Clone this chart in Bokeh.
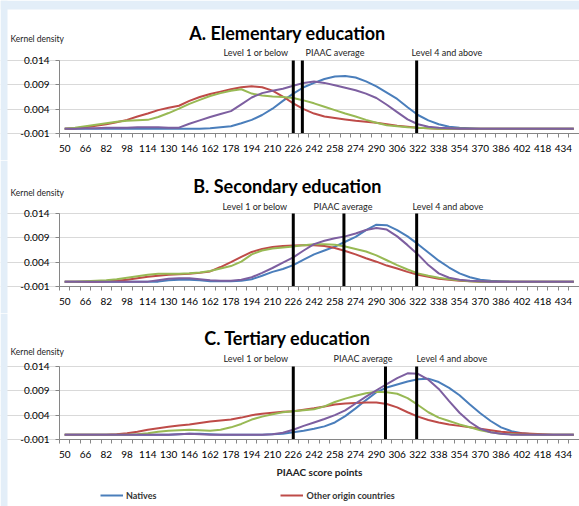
from bokeh.plotting import figure
from bokeh.models import FixedTicker, Label, Legend, LegendItem, Range1d, PrintfTickFormatter, BoxAnnotation
from bokeh.layouts import column
from bokeh.embed import file_html
from bokeh.resources import INLINE

# ---------------- data ----------------
scores = [50 + 8 * i for i in range(50)]          # score categories 50 ... 442
tick_labels = [50 + 16 * i for i in range(25)]    # labelled categories 50 ... 434
y_ticks = [-0.001, 0.004, 0.009, 0.014]
level_cuts = [226, 321]                            # Level 1 or below / Level 4 and above
piaac_avg = [233, 265, 297]                        # PIAAC average per panel
panel_titles = ["A. Elementary education", "B. Secondary education", "C. Tertiary education"]
level_texts = ["Level 1 or below", "PIAAC average", "Level 4 and above"]
series_names = ["Natives", "Other origin countries"]

natives_A = [0]*14 + [0.0001, 0.0003, 0.0005, 0.0011, 0.0018, 0.0028, 0.0041, 0.0057, 0.0072, 0.0085,
             0.0094, 0.0102, 0.0107, 0.0108, 0.0105, 0.0097, 0.0087, 0.0074, 0.0061, 0.0044,
             0.0028, 0.0017, 0.0009, 0.0004, 0.0002, 0.0001] + [0]*10
purple_A = [0, 0, 0.0001, 0.0001, 0.0002, 0.0002, 0.0002, 0.0003, 0.0003, 0.0003, 0.0002, 0.0002,
            0.0010, 0.0017, 0.0024, 0.0030, 0.0036, 0.0050, 0.0064, 0.0073, 0.0078, 0.0082, 0.0088,
            0.0094, 0.0097, 0.0094, 0.0089, 0.0084, 0.0079, 0.0072, 0.0063, 0.0049, 0.0034, 0.0019,
            0.0009, 0.0004, 0.0002, 0.0001] + [0]*12
green_A = [0, 0.0002, 0.0005, 0.0008, 0.0011, 0.0014, 0.0016, 0.0017, 0.0018, 0.0024, 0.0032, 0.0041,
           0.0051, 0.0059, 0.0067, 0.0073, 0.0078, 0.0081, 0.0072, 0.0068, 0.0066, 0.0065, 0.0063,
           0.0058, 0.0052, 0.0045, 0.0038, 0.0031, 0.0025, 0.0018, 0.0012, 0.0007, 0.0005, 0.0003,
           0.0002, 0.0001] + [0]*14
other_A = [0, 0.0001, 0.0003, 0.0006, 0.0009, 0.0013, 0.0018, 0.0025, 0.0031, 0.0038, 0.0043, 0.0047,
           0.0057, 0.0065, 0.0071, 0.0076, 0.0081, 0.0085, 0.0087, 0.0085, 0.0078, 0.0066, 0.0052,
           0.0040, 0.0031, 0.0025, 0.0022, 0.0019, 0.0016, 0.0014, 0.0012, 0.0009, 0.0006, 0.0004,
           0.0002, 0.0001] + [0]*14

natives_B = [0]*10 + [0.0003, 0.0004, 0.0004, 0.0003, 0.0001, 0.0001, 0.0001, 0.0002, 0.0005, 0.0012,
             0.0020, 0.0026, 0.0034, 0.0045, 0.0056, 0.0064, 0.0072, 0.0082, 0.0092, 0.0106,
             0.0117, 0.0116, 0.0106, 0.0093, 0.0077, 0.0060, 0.0043, 0.0029, 0.0017, 0.0009,
             0.0004, 0.0002, 0.0001] + [0]*7
purple_B = [0]*9 + [0.0003, 0.0006, 0.0007, 0.0007, 0.0005, 0.0003, 0.0002, 0.0002, 0.0004, 0.0009,
            0.0018, 0.0028, 0.0039, 0.0050, 0.0064, 0.0077, 0.0084, 0.0089, 0.0093, 0.0099,
            0.0106, 0.0110, 0.0107, 0.0093, 0.0075, 0.0056, 0.0034, 0.0017, 0.0008, 0.0004,
            0.0002, 0.0001] + [0]*9
green_B = [0, 0, 0.0001, 0.0002, 0.0003, 0.0005, 0.0008, 0.0011, 0.0014, 0.0016, 0.0016, 0.0016,
           0.0017, 0.0019, 0.0022, 0.0027, 0.0032, 0.0041, 0.0056, 0.0064, 0.0068, 0.0070, 0.0072,
           0.0075, 0.0077, 0.0077, 0.0076, 0.0072, 0.0067, 0.0062, 0.0054, 0.0044, 0.0034, 0.0025,
           0.0017, 0.0012, 0.0008, 0.0005, 0.0003, 0.0001] + [0]*10
other_B = [0]*4 + [0.0001, 0.0002, 0.0004, 0.0007, 0.0010, 0.0012, 0.0014, 0.0015, 0.0016, 0.0018,
           0.0021, 0.0030, 0.0040, 0.0051, 0.0061, 0.0067, 0.0071, 0.0073, 0.0074, 0.0075,
           0.0075, 0.0073, 0.0069, 0.0063, 0.0056, 0.0048, 0.0041, 0.0033, 0.0027, 0.0020,
           0.0014, 0.0010, 0.0006, 0.0004, 0.0002, 0.0001] + [0]*10

natives_C = [0]*11 + [0.0001, 0.0002, 0.0002, 0.0001, 0, 0, 0, 0, 0, 0.0001,
             0.0002, 0.0005, 0.0008, 0.0012, 0.0017, 0.0025, 0.0038, 0.0054, 0.0071, 0.0087,
             0.0097, 0.0103, 0.0109, 0.0114, 0.0115, 0.0108, 0.0096, 0.0081, 0.0062, 0.0044,
             0.0028, 0.0015, 0.0007, 0.0003, 0.0001] + [0]*4
purple_C = [0]*11 + [0.0001, 0.0002, 0.0001] + [0]*6 + [
            0.0001, 0.0004, 0.0010, 0.0018, 0.0025, 0.0032, 0.0040, 0.0050, 0.0064, 0.0078,
            0.0091, 0.0104, 0.0116, 0.0126, 0.0125, 0.0113, 0.0094, 0.0069, 0.0045, 0.0026,
            0.0012, 0.0005, 0.0002] + [0]*7
green_C = [0]*7 + [0.0001, 0.0003, 0.0006, 0.0008, 0.0009, 0.0010, 0.0009, 0.0008, 0.0010, 0.0015,
           0.0022, 0.0031, 0.0037, 0.0042, 0.0046, 0.0048, 0.0050, 0.0052, 0.0058, 0.0067,
           0.0074, 0.0080, 0.0085, 0.0088, 0.0087, 0.0084, 0.0075, 0.0061, 0.0046, 0.0035,
           0.0028, 0.0021, 0.0015, 0.0009, 0.0005, 0.0002, 0.0001] + [0]*6
other_C = [0]*5 + [0.0001, 0.0003, 0.0006, 0.0010, 0.0013, 0.0016, 0.0019, 0.0021, 0.0024, 0.0027,
           0.0029, 0.0031, 0.0035, 0.0040, 0.0043, 0.0045, 0.0047, 0.0048, 0.0051, 0.0054,
           0.0058, 0.0062, 0.0064, 0.0065, 0.0066, 0.0066, 0.0063, 0.0056, 0.0046, 0.0037,
           0.0030, 0.0025, 0.0021, 0.0018, 0.0015, 0.0012, 0.0009, 0.0006, 0.0004, 0.0003,
           0.0002, 0.0001] + [0]*3

panels = [
    (natives_A, other_A, green_A, purple_A),
    (natives_B, other_B, green_B, purple_B),
    (natives_C, other_C, green_C, purple_C),
]
for grp in panels:
    for s in grp:
        assert len(s) == len(scores), len(s)

# ---------------- styles / layout (pixels) ----------------
BLUE, RED, GREEN, PURPLE = "#4A7EBB", "#BE4B48", "#98B954", "#7D5FA0"
DECOR = "#E3EEF8"
FONT = "Lato"
W = 579
AXIS_GRAY = "#868686"
X_LO, X_HI = 46, 446            # category axis extent (half a category either side)
AX_LEFT, AX_RIGHT = 59, 578.5   # axis extent in canvas px
PX_PER_X = (AX_RIGHT - AX_LEFT) / (X_HI - X_LO)
minor_bounds = [X_LO + 8 * k for k in range(51)]

def cx(px):
    """canvas x pixel -> data x"""
    return X_LO + (px - AX_LEFT) / PX_PER_X

layouts = [
    dict(h=160, y_top=60, y_bot=133, title_y=32, kd_y=38, lvl_y=52, lvl_x=[223, 305, 411]),
    dict(h=153, y_top=53, y_bot=126, title_y=25, kd_y=32, lvl_y=46, lvl_x=[222, 313, 412]),
    dict(h=193, y_top=53, y_bot=126, title_y=24, kd_y=38, lvl_y=45, lvl_x=[223, 333, 416]),
]

figs = []
for idx, ((nat, oth, grn, pur), lay) in enumerate(zip(panels, layouts)):
    ymin, ymax = y_ticks[0], y_ticks[-1]
    per_px = (ymax - ymin) / (lay["y_bot"] - lay["y_top"])

    def cy(py, lay=lay, per_px=per_px):
        return ymax - (py - lay["y_top"]) * per_px

    p = figure(width=W, height=lay["h"],
               x_range=Range1d(cx(0), cx(W)), y_range=Range1d(cy(lay["h"]), cy(0)),
               output_backend="svg", toolbar_location=None,
               min_border_left=0, min_border_right=0, min_border_top=0, min_border_bottom=0)
    p.outline_line_color = None
    p.background_fill_color = "white"
    p.border_fill_color = "white"

    # decorative page background (light blue strip at left / band at top)
    p.add_layout(BoxAnnotation(left=cx(0), right=cx(7), bottom=cy(lay["h"]), top=cy(0),
                               fill_color=DECOR, fill_alpha=1, line_color=None, level="underlay"))
    if idx == 0:
        p.add_layout(BoxAnnotation(left=cx(0), right=cx(W), bottom=cy(9), top=cy(0),
                                   fill_color=DECOR, fill_alpha=1, line_color=None, level="underlay"))

    # axes drawn inside the frame
    p.xaxis.fixed_location = ymin
    p.xaxis.bounds = (X_LO, X_HI)
    p.xaxis.ticker = FixedTicker(ticks=tick_labels, minor_ticks=minor_bounds)
    p.xaxis.major_tick_line_color = None
    p.xaxis.minor_tick_in = 0
    p.xaxis.minor_tick_out = 4
    p.xaxis.minor_tick_line_color = AXIS_GRAY
    p.xaxis.axis_line_color = AXIS_GRAY
    p.xaxis.major_label_text_font = FONT
    p.xaxis.major_label_text_font_size = "10px"
    p.xaxis.major_label_text_color = "#000000"
    p.xaxis.major_label_standoff = 5

    p.yaxis.fixed_location = X_LO
    p.yaxis.bounds = (ymin, ymax)
    p.yaxis.ticker = FixedTicker(ticks=y_ticks)
    p.yaxis.formatter = PrintfTickFormatter(format="%.3f")
    p.yaxis.axis_line_color = AXIS_GRAY
    p.yaxis.major_tick_line_color = AXIS_GRAY
    p.yaxis.major_tick_in = 0
    p.yaxis.major_tick_out = 4
    p.yaxis.minor_tick_line_color = None
    p.yaxis.major_label_text_font = FONT
    p.yaxis.major_label_text_font_size = "10px"
    p.yaxis.major_label_text_color = "#000000"
    p.yaxis.major_label_standoff = 6

    p.xgrid.visible = False
    p.ygrid.grid_line_color = "#D9D9D9"
    p.ygrid.grid_line_width = 1
    p.ygrid.bounds = (X_LO, X_HI)

    # curves
    r_nat = p.line(scores, nat, line_color=BLUE, line_width=2)
    r_oth = p.line(scores, oth, line_color=RED, line_width=2)
    p.line(scores, grn, line_color=GREEN, line_width=2)
    p.line(scores, pur, line_color=PURPLE, line_width=2)

    # reference lines (from -0.001 to 0.014)
    vx = [level_cuts[0], piaac_avg[idx], level_cuts[1]]
    p.segment(x0=vx, x1=vx, y0=[ymin]*3, y1=[ymax]*3, line_color="black", line_width=3)

    # texts
    p.add_layout(Label(x=cx(287), y=cy(lay["title_y"]), text=panel_titles[idx], text_font=FONT,
                       text_font_size="18px", text_font_style="bold", text_align="center",
                       text_baseline="middle", text_color="#000000"))
    p.add_layout(Label(x=cx(10), y=cy(lay["kd_y"]), text="Kernel density", text_font=FONT,
                       text_font_size="8.5px", text_align="left", text_baseline="middle",
                       text_color="#222222"))
    for px_, tt in zip(lay["lvl_x"], level_texts):
        p.add_layout(Label(x=cx(px_), y=cy(lay["lvl_y"]), text=tt, text_font=FONT,
                           text_font_size="9px", text_align="left", text_baseline="middle",
                           text_color="#222222"))

    if idx == 2:
        p.xaxis.axis_label = "PIAAC score points"
        p.xaxis.axis_label_text_font = FONT
        p.xaxis.axis_label_text_font_size = "10px"
        p.xaxis.axis_label_text_font_style = "bold"
        p.xaxis.axis_label_text_color = "#222222"
        p.xaxis.axis_label_standoff = 5
        legend = Legend(items=[LegendItem(label=series_names[0], renderers=[r_nat]),
                               LegendItem(label=series_names[1], renderers=[r_oth])],
                        location=(100, 5), orientation="horizontal")
        legend.padding = 0
        legend.margin = 0
        legend.spacing = 124
        legend.glyph_width = 23
        legend.glyph_height = 12
        legend.label_standoff = 3
        legend.label_height = 12
        legend.label_text_font = FONT
        legend.label_text_font_size = "9px"
        legend.label_text_font_style = "bold"
        legend.label_text_color = "#333333"
        legend.border_line_color = None
        legend.background_fill_alpha = 0
        p.add_layout(legend)
    figs.append(p)

layout = column(*figs, spacing=0)
open("out.html", "w").write(file_html(layout, INLINE))
